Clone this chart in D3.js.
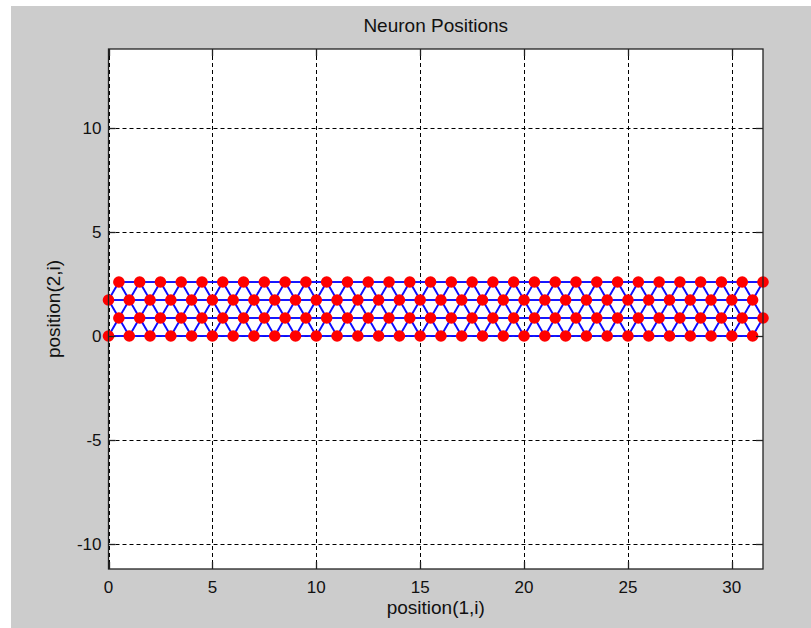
<!DOCTYPE html>
<html>
<head>
<meta charset="utf-8">
<script src="https://cdn.jsdelivr.net/npm/d3@7"></script>
<style>
body { margin:0; background:#fff; }
text { font-family: Arial, "Liberation Sans", sans-serif; fill:#111; }
</style>
</head>
<body>
<div id="chart"></div>
<script>
var W=811, H=628;

// hextop 32x4 neuron layout
var cols=[0,1,2,3,4,5,6,7,8,9,10,11,12,13,14,15,16,17,18,19,20,21,22,23,24,25,26,27,28,29,30,31];
var rowY=[0, 0.866, 1.732, 2.598];
var rowShift=[0, 0.5, 0, 0.5];
var xTicks=[0,5,10,15,20,25,30];
var yTicks=[-10,-5,0,5,10];
var xDomain=[0,31.5];

var plot={left:108.5, top:49, right:763, bottom:569};
var pw=plot.right-plot.left, ph=plot.bottom-plot.top;

// axis equal: y range follows from the pixel aspect ratio
var yMid=(rowY[0]+rowY[rowY.length-1])/2;
var yHalf=(ph/pw)*(xDomain[1]-xDomain[0])/2;

var x=d3.scaleLinear().domain(xDomain).range([plot.left,plot.right]);
var y=d3.scaleLinear().domain([yMid-yHalf,yMid+yHalf]).range([plot.bottom,plot.top]);

var svg=d3.select("#chart").append("svg")
.attr("width",W)
.attr("height",H);

svg.append("rect")
.attr("x",11).attr("y",6)
.attr("width",W-11).attr("height",H-6)
.attr("fill","#cccccc");

svg.append("rect")
.attr("x",plot.left).attr("y",plot.top)
.attr("width",pw).attr("height",ph)
.attr("fill","#fff");

// grid
var grid=svg.append("g").attr("stroke","#000").attr("stroke-width",1).attr("stroke-dasharray","4,3");
grid.selectAll("line.gx").data(xTicks).enter().append("line")
.attr("x1",d=>Math.round(x(d))+0.5).attr("x2",d=>Math.round(x(d))+0.5)
.attr("y1",plot.top).attr("y2",plot.bottom);
grid.selectAll("line.gy").data(yTicks).enter().append("line")
.attr("y1",d=>Math.round(y(d))+0.5).attr("y2",d=>Math.round(y(d))+0.5)
.attr("x1",plot.left).attr("x2",plot.right);

// neurons
var neurons=[];
rowY.forEach(function(ry,r){
  cols.forEach(function(c){ neurons.push({px:c+rowShift[r], py:ry}); });
});

var links=[];
for(var i=0;i<neurons.length;i++){
  for(var j=i+1;j<neurons.length;j++){
    var dx=neurons[i].px-neurons[j].px, dy=neurons[i].py-neurons[j].py;
    if(Math.sqrt(dx*dx+dy*dy)<1.01) links.push([neurons[i],neurons[j]]);
  }
}

svg.append("g").selectAll("line").data(links).enter().append("line")
.attr("x1",d=>x(d[0].px)).attr("y1",d=>y(d[0].py))
.attr("x2",d=>x(d[1].px)).attr("y2",d=>y(d[1].py))
.attr("stroke","#0a0aff")
.attr("stroke-width",1.9);

svg.append("g").selectAll("circle").data(neurons).enter().append("circle")
.attr("cx",d=>x(d.px)).attr("cy",d=>y(d.py))
.attr("r",5.8)
.attr("fill","#ff0000");

// axes box + ticks
var tl=7;
var ax=svg.append("g").attr("stroke","#222").attr("stroke-width",1.3).attr("fill","none");
ax.append("rect").attr("x",plot.left).attr("y",plot.top).attr("width",pw).attr("height",ph);
xTicks.forEach(function(t){
  var xx=Math.round(x(t))+0.5;
  ax.append("line").attr("x1",xx).attr("x2",xx).attr("y1",plot.bottom).attr("y2",plot.bottom-tl);
  ax.append("line").attr("x1",xx).attr("x2",xx).attr("y1",plot.top).attr("y2",plot.top+tl);
});
yTicks.forEach(function(t){
  var yy=Math.round(y(t))+0.5;
  ax.append("line").attr("y1",yy).attr("y2",yy).attr("x1",plot.left).attr("x2",plot.left+tl);
  ax.append("line").attr("y1",yy).attr("y2",yy).attr("x1",plot.right).attr("x2",plot.right-tl);
});

// tick labels
svg.append("g").selectAll("text").data(xTicks).enter().append("text")
.attr("x",d=>x(d)).attr("y",plot.bottom+24)
.attr("text-anchor","middle")
.style("font-size","17px")
.text(d=>d);
svg.append("g").selectAll("text").data(yTicks).enter().append("text")
.attr("x",plot.left-7).attr("y",d=>y(d)+6)
.attr("text-anchor","end")
.style("font-size","17px")
.text(d=>d);

// titles
svg.append("text")
.attr("x",(plot.left+plot.right)/2).attr("y",32)
.attr("text-anchor","middle")
.style("font-size","19px")
.text("Neuron Positions");
svg.append("text")
.attr("x",(plot.left+plot.right)/2).attr("y",614)
.attr("text-anchor","middle")
.style("font-size","19px")
.text("position(1,i)");
svg.append("text")
.attr("transform","translate(60,"+((plot.top+plot.bottom)/2)+") rotate(-90)")
.attr("text-anchor","middle")
.style("font-size","19px")
.text("position(2,i)");
</script>
</body>
</html>
